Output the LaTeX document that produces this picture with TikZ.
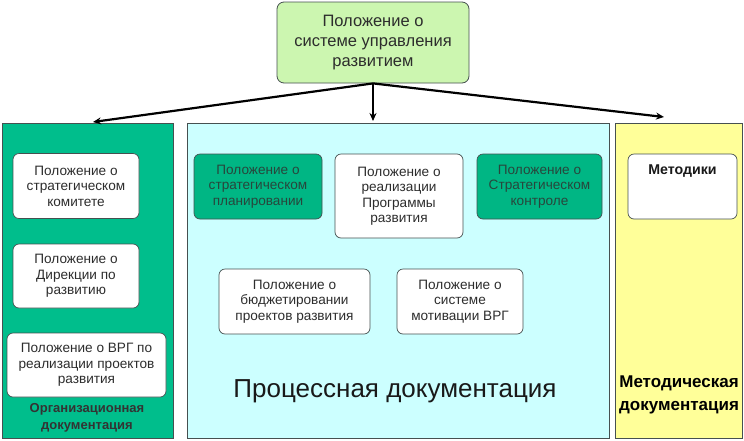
\documentclass[tikz,border=0pt]{standalone}
\usepackage{fontspec}
\setmainfont{Liberation Sans}
\usetikzlibrary{arrows.meta}
\definecolor{topg}{RGB}{204,246,176}
\definecolor{orgg}{RGB}{0,190,140}
\definecolor{darkbox}{RGB}{0,182,132}
\definecolor{cyanp}{RGB}{204,255,255}
\definecolor{yelp}{RGB}{255,255,153}
\definecolor{edge}{RGB}{70,80,80}
\definecolor{txt}{RGB}{45,45,45}
\definecolor{dtxt}{RGB}{40,70,60}
\tikzset{
  px/.style={x=1pt,y=-1pt},
  panel/.style={draw=edge,line width=0.8pt},
  doc/.style={draw=edge,line width=0.7pt,rounded corners=6pt,fill=white,align=center,font=\fontsize{13.6}{15.5}\selectfont,text=txt},
  darkdoc/.style={doc,fill=darkbox,text=dtxt},
  conn/.style={line width=2.2pt,-{Stealth[length=8pt,width=7pt]}}
}
\begin{document}
\begin{tikzpicture}[px]
\useasboundingbox (0,0) rectangle (744,440);
\fill[white] (0,0) rectangle (744,440);
% panels
\draw[panel,fill=orgg] (2,123) rectangle (173,438);
\draw[panel,fill=cyanp] (187,123) rectangle (609,438);
\draw[panel,fill=yelp] (615,123) rectangle (742,438);
% top
\node[draw=edge,line width=0.8pt,rounded corners=7pt,fill=topg,align=center,
  minimum width=192pt,minimum height=81pt,font=\fontsize{16.5}{20}\selectfont,text=txt]
  (top) at (373,42.5) {Положение о\\системе управления\\развитием};
\coordinate (la) at (93,122);
\coordinate (ma) at (373,121);
\coordinate (ra) at (664,117);
\draw[conn] (top.south) -- (la);
\draw[conn] (top.south) -- (ma);
\draw[conn] (top.south) -- (ra);
% left boxes
\node[doc,minimum width=126pt,minimum height=65pt] (o1) at (76,186) {Положение о\\стратегическом\\комитете};
\node[doc,minimum width=126pt,minimum height=64pt] (o2) at (76,276) {Положение о\\Дирекции по\\развитию};
\node[doc,minimum width=159pt,minimum height=64pt] (o3) at (86.5,365) {Положение о ВРГ по\\реализации проектов\\развития};
\node[align=center,font=\bfseries\fontsize{13}{17}\selectfont,text=black!80] (ol) at (87,418) {Организационная\\документация};
% middle boxes
\node[darkdoc,minimum width=128pt,minimum height=65pt] (p1) at (258,186.5) {Положение о\\стратегическом\\планировании};
\node[doc,minimum width=128pt,minimum height=84pt] (p2) at (399,196) {Положение о\\реализации\\Программы\\развития};
\node[darkdoc,minimum width=125pt,minimum height=65pt] (p3) at (539.5,186.5) {Положение о\\Стратегическом\\контроле};
\node[doc,minimum width=151pt,minimum height=65pt] (p4) at (294.5,301.5) {Положение о\\бюджетировании\\проектов развития};
\node[doc,minimum width=126pt,minimum height=65pt] (p5) at (460,301.5) {Положение о\\системе\\мотивации ВРГ};
\node[font=\fontsize{26}{30}\selectfont,text=black!90] (pl) at (395,391) {Процессная документация};
% right
\node[doc,minimum width=109pt,minimum height=65pt] (m1) at (682.5,186.5) {};
\node[font=\bfseries\fontsize{14.2}{16}\selectfont,anchor=north,text=black!90] (m1t) at (m1.north) [yshift=-8pt] {Методики};
\node[align=center,font=\bfseries\fontsize{17}{23.5}\selectfont] (ml) at (679,395) {Методическая\\документация};
\end{tikzpicture}
\end{document}
